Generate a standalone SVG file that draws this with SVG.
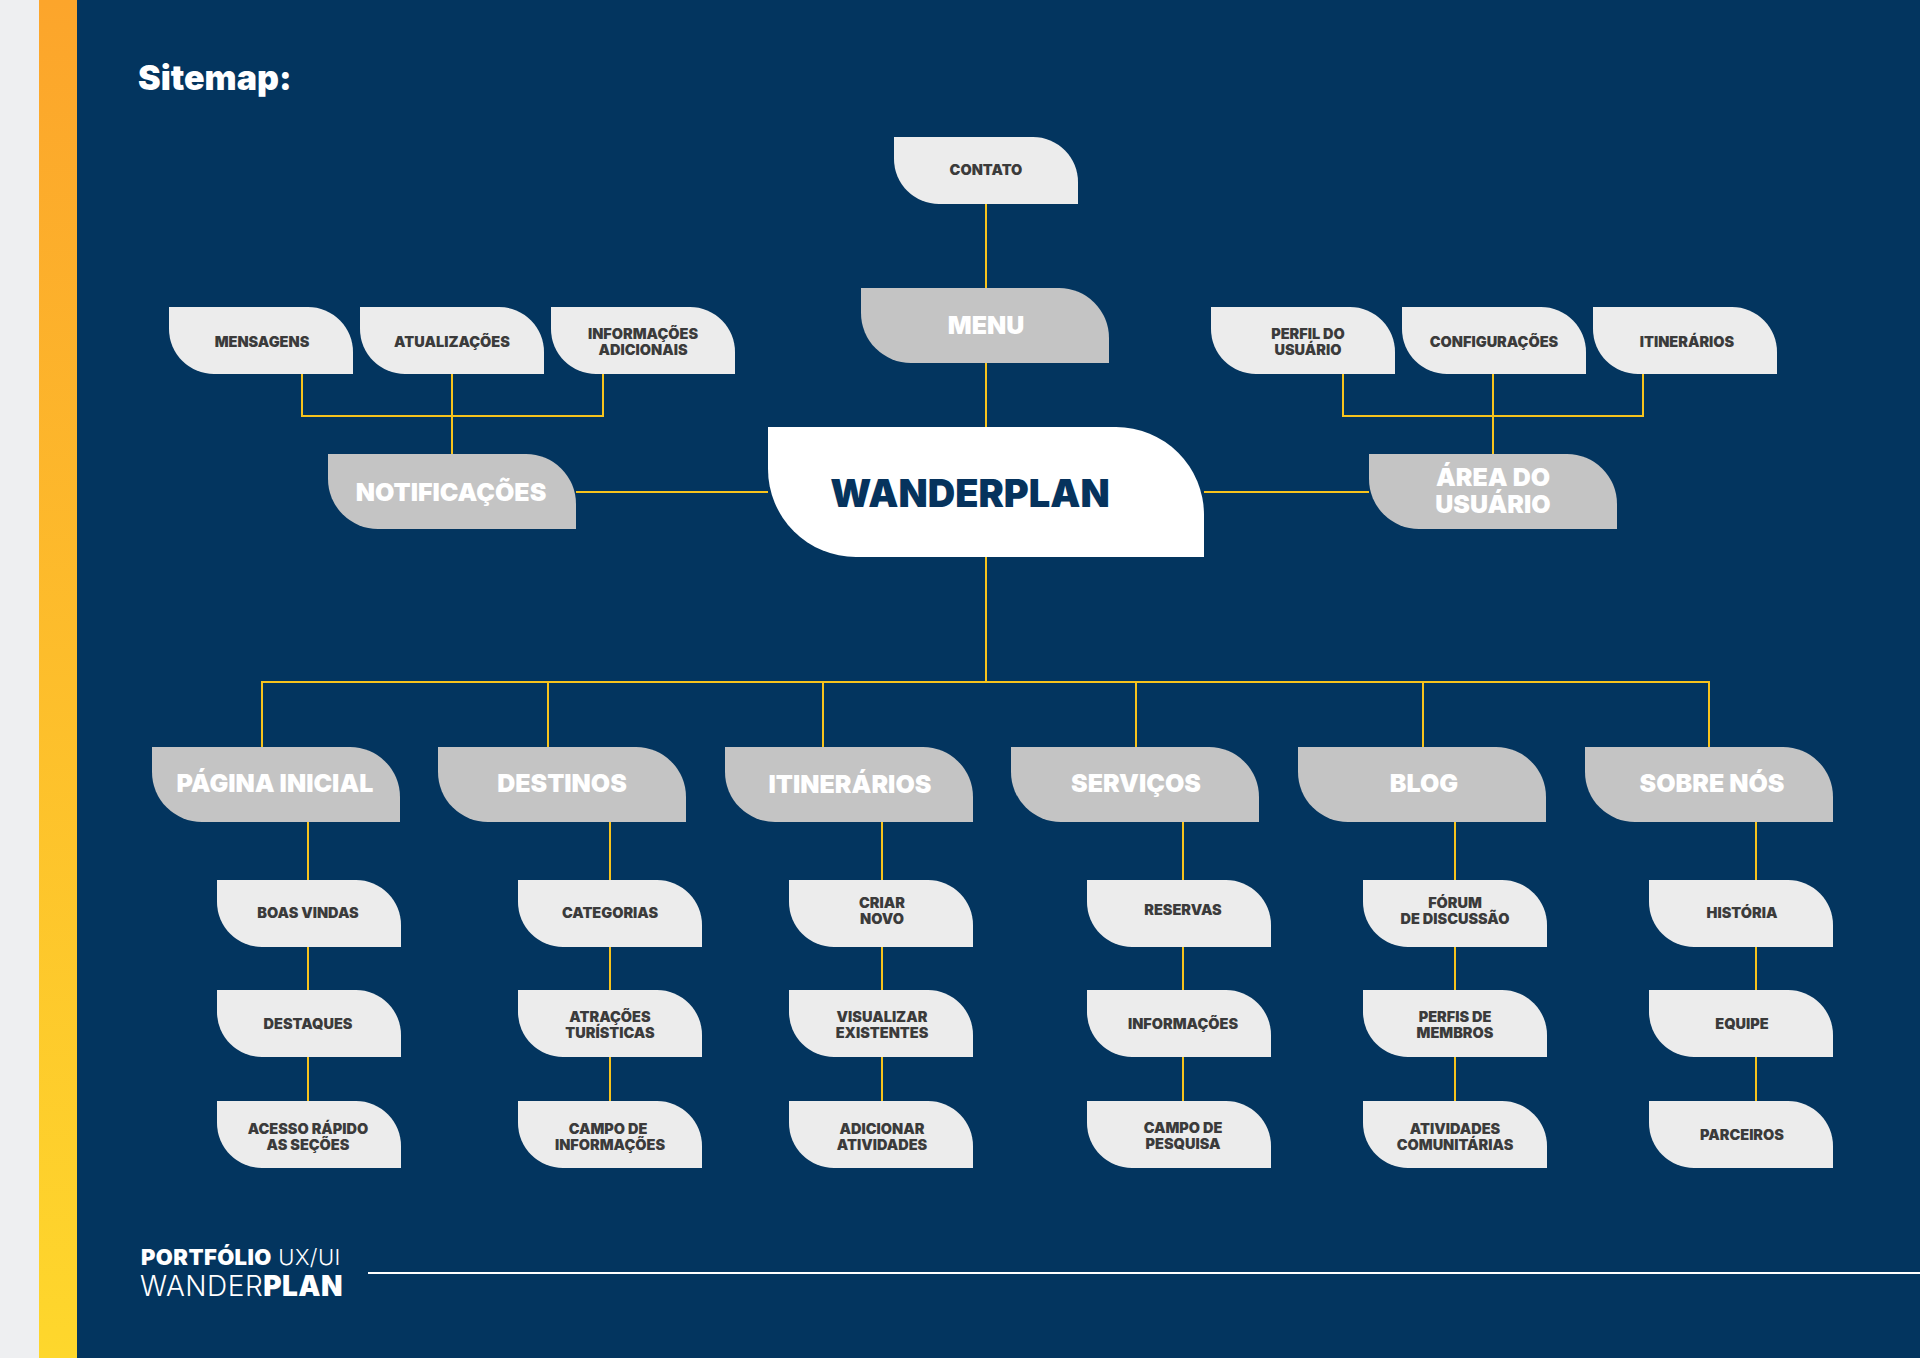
<svg xmlns="http://www.w3.org/2000/svg" xmlns:xlink="http://www.w3.org/1999/xlink" width="1920" height="1358" viewBox="0 0 1920 1358">
<style>
text{font-family:Inter,"Noto Sans","Liberation Sans",sans-serif;text-anchor:middle}
.s{font-size:14.5px;font-weight:900;fill:#3b3b3b}
.l{font-size:25px;font-weight:900;fill:#ffffff}
.sb{fill:#ececec}
.lb{fill:#c4c4c4}
.c{fill:none;stroke:#f7c31c;stroke-width:2}
</style>
<defs>
<linearGradient id="bar" x1="0" y1="0" x2="0" y2="1">
<stop offset="0" stop-color="#fca52b"/>
<stop offset="1" stop-color="#fed72c"/>
</linearGradient>
<path id="sbox" d="M0,0 H139 A45,45 0 0 1 184,45 V67 H45 A45,45 0 0 1 0,22 Z"/>
<path id="lbox" d="M0,0 H198 A50,50 0 0 1 248,50 V75 H50 A50,50 0 0 1 0,25 Z"/>
</defs>
<rect x="0" y="0" width="1920" height="1358" fill="#03355f"/>
<rect x="0" y="0" width="39" height="1358" fill="#eeeff1"/>
<rect x="39" y="0" width="38" height="1358" fill="url(#bar)"/>
<text x="138" y="90" style="font-size:34px;font-weight:900;fill:#fff;text-anchor:start">Sitemap:</text>

<g id="connectors">
<path class="c" d="M986,204 V288 M986,363 V427 M986,557 V682"/>
<path class="c" d="M262,747 V682 H1709 V747 M548,682 V747 M823,682 V747 M1136,682 V747 M1423,682 V747"/>
<path class="c" d="M576,492 H768 M1204,492 H1369"/>
<path class="c" d="M302,374 V416 H603 V374 M452,374 V454"/>
<path class="c" d="M1343,374 V416 H1643 V374 M1493,374 V454"/>
<path class="c" d="M308,822 V880 M308,947 V990 M308,1057 V1101"/>
<path class="c" d="M610,822 V880 M610,947 V990 M610,1057 V1101"/>
<path class="c" d="M882,822 V880 M882,947 V990 M882,1057 V1101"/>
<path class="c" d="M1183,822 V880 M1183,947 V990 M1183,1057 V1101"/>
<path class="c" d="M1455,822 V880 M1455,947 V990 M1455,1057 V1101"/>
<path class="c" d="M1756,822 V880 M1756,947 V990 M1756,1057 V1101"/>
</g>

<g id="wanderplan">
<path d="M768,427 H1116 A88,88 0 0 1 1204,515 V557 H856 A88,88 0 0 1 768,469 Z" fill="#ffffff"/>
<text x="970" y="507" style="font-size:38px;font-weight:900;fill:#06335d">WANDERPLAN</text>
</g>

<g id="contato"><use href="#sbox" x="894" y="137" class="sb"/><text class="s" x="986" y="175">CONTATO</text></g>
<g id="menu"><use href="#lbox" x="861" y="288" class="lb"/><text class="l" x="986" y="334">MENU</text></g>
<g id="notificacoes"><use href="#lbox" x="328" y="454" class="lb"/><text class="l" x="451" y="501">NOTIFICAÇÕES</text></g>
<g id="area-usuario"><use href="#lbox" x="1369" y="454" class="lb"/><text class="l" x="1493" y="486">ÁREA DO</text><text class="l" x="1493" y="513">USUÁRIO</text></g>

<g id="mensagens"><use href="#sbox" x="169" y="307" class="sb"/><text class="s" x="262" y="347">MENSAGENS</text></g>
<g id="atualizacoes"><use href="#sbox" x="360" y="307" class="sb"/><text class="s" x="452" y="347">ATUALIZAÇÕES</text></g>
<g id="info-adicionais"><use href="#sbox" x="551" y="307" class="sb"/><text class="s" x="643" y="339">INFORMAÇÕES</text><text class="s" x="643" y="355">ADICIONAIS</text></g>
<g id="perfil-usuario"><use href="#sbox" x="1211" y="307" class="sb"/><text class="s" x="1308" y="339">PERFIL DO</text><text class="s" x="1308" y="355">USUÁRIO</text></g>
<g id="configuracoes"><use href="#sbox" x="1402" y="307" class="sb"/><text class="s" x="1494" y="347">CONFIGURAÇÕES</text></g>
<g id="itinerarios-usuario"><use href="#sbox" x="1593" y="307" class="sb"/><text class="s" x="1687" y="347">ITINERÁRIOS</text></g>

<g id="pagina-inicial"><use href="#lbox" x="152" y="747" class="lb"/><text class="l" x="275" y="792">PÁGINA INICIAL</text></g>
<g id="destinos"><use href="#lbox" x="438" y="747" class="lb"/><text class="l" x="562" y="792">DESTINOS</text></g>
<g id="itinerarios"><use href="#lbox" x="725" y="747" class="lb"/><text class="l" x="850" y="793">ITINERÁRIOS</text></g>
<g id="servicos"><use href="#lbox" x="1011" y="747" class="lb"/><text class="l" x="1136" y="792">SERVIÇOS</text></g>
<g id="blog"><use href="#lbox" x="1298" y="747" class="lb"/><text class="l" x="1424" y="792">BLOG</text></g>
<g id="sobre-nos"><use href="#lbox" x="1585" y="747" class="lb"/><text class="l" x="1712" y="792">SOBRE NÓS</text></g>

<g id="boas-vindas"><use href="#sbox" x="217" y="880" class="sb"/><text class="s" x="308" y="918">BOAS VINDAS</text></g>
<g id="destaques"><use href="#sbox" x="217" y="990" class="sb"/><text class="s" x="308" y="1029">DESTAQUES</text></g>
<g id="acesso-rapido"><use href="#sbox" x="217" y="1101" class="sb"/><text class="s" x="308" y="1134">ACESSO RÁPIDO</text><text class="s" x="308" y="1150">AS SEÇÕES</text></g>

<g id="categorias"><use href="#sbox" x="518" y="880" class="sb"/><text class="s" x="610" y="918">CATEGORIAS</text></g>
<g id="atracoes"><use href="#sbox" x="518" y="990" class="sb"/><text class="s" x="610" y="1022">ATRAÇÕES</text><text class="s" x="610" y="1038">TURÍSTICAS</text></g>
<g id="campo-info"><use href="#sbox" x="518" y="1101" class="sb"/><text class="s" x="608" y="1134">CAMPO DE</text><text class="s" x="610" y="1150">INFORMAÇÕES</text></g>

<g id="criar-novo"><use href="#sbox" x="789" y="880" class="sb"/><text class="s" x="882" y="908">CRIAR</text><text class="s" x="882" y="924">NOVO</text></g>
<g id="visualizar"><use href="#sbox" x="789" y="990" class="sb"/><text class="s" x="882" y="1022">VISUALIZAR</text><text class="s" x="882" y="1038">EXISTENTES</text></g>
<g id="adicionar"><use href="#sbox" x="789" y="1101" class="sb"/><text class="s" x="882" y="1134">ADICIONAR</text><text class="s" x="882" y="1150">ATIVIDADES</text></g>

<g id="reservas"><use href="#sbox" x="1087" y="880" class="sb"/><text class="s" x="1183" y="915">RESERVAS</text></g>
<g id="informacoes"><use href="#sbox" x="1087" y="990" class="sb"/><text class="s" x="1183" y="1029">INFORMAÇÕES</text></g>
<g id="campo-pesquisa"><use href="#sbox" x="1087" y="1101" class="sb"/><text class="s" x="1183" y="1133">CAMPO DE</text><text class="s" x="1183" y="1149">PESQUISA</text></g>

<g id="forum"><use href="#sbox" x="1363" y="880" class="sb"/><text class="s" x="1455" y="908">FÓRUM</text><text class="s" x="1455" y="924">DE DISCUSSÃO</text></g>
<g id="perfis-membros"><use href="#sbox" x="1363" y="990" class="sb"/><text class="s" x="1455" y="1022">PERFIS DE</text><text class="s" x="1455" y="1038">MEMBROS</text></g>
<g id="atividades"><use href="#sbox" x="1363" y="1101" class="sb"/><text class="s" x="1455" y="1134">ATIVIDADES</text><text class="s" x="1455" y="1150">COMUNITÁRIAS</text></g>

<g id="historia"><use href="#sbox" x="1649" y="880" class="sb"/><text class="s" x="1742" y="918">HISTÓRIA</text></g>
<g id="equipe"><use href="#sbox" x="1649" y="990" class="sb"/><text class="s" x="1742" y="1029">EQUIPE</text></g>
<g id="parceiros"><use href="#sbox" x="1649" y="1101" class="sb"/><text class="s" x="1742" y="1140">PARCEIROS</text></g>

<g id="footer">
<text x="141" y="1265" style="font-size:22px;letter-spacing:0.4px;fill:#fff;text-anchor:start"><tspan font-weight="900">PORTFÓLIO</tspan><tspan font-weight="300"> UX/UI</tspan></text>
<text x="140" y="1296" style="font-size:28px;letter-spacing:0.5px;fill:#fff;text-anchor:start"><tspan font-weight="300">WANDER</tspan><tspan font-weight="900">PLAN</tspan></text>
<line x1="368" y1="1273" x2="1920" y2="1273" stroke="#ffffff" stroke-width="2"/>
</g>
</svg>
